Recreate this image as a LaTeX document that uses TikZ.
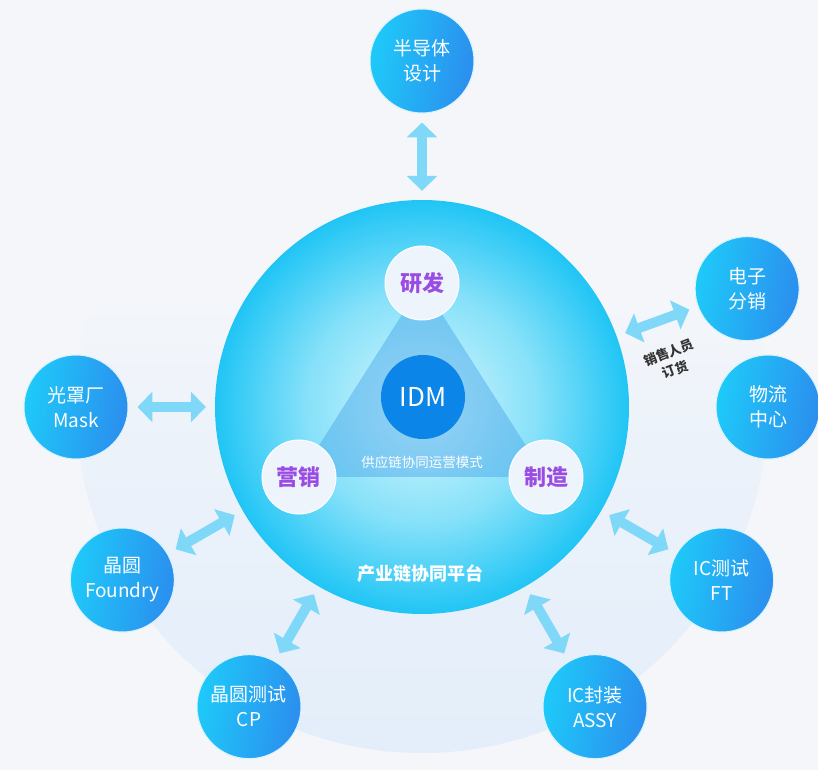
\documentclass[tikz,border=0pt]{standalone}
\usepackage{fontspec}
\setmainfont{Noto Sans CJK SC}
\usetikzlibrary{arrows.meta}
\definecolor{bgc}{HTML}{F4F6FA}
\definecolor{haloc}{HTML}{E3EEFA}
\definecolor{halomid}{HTML}{ECF2FA}
\definecolor{mainin}{HTML}{DAF7FD}
\definecolor{mainmid}{HTML}{86E1F9}
\definecolor{mainout}{HTML}{20C5F5}
\definecolor{tric}{HTML}{3F9FE9}
\definecolor{whc}{HTML}{EEF4FC}
\definecolor{purp}{HTML}{9B4DE3}
\definecolor{idmc}{HTML}{0B85E8}
\definecolor{arrc}{HTML}{7FD8F7}
\definecolor{oleft}{HTML}{1ECAF9}
\definecolor{oright}{HTML}{2B8EEE}
\definecolor{lblc}{HTML}{333333}
\pgfdeclareradialshading{mainshade}{\pgfpoint{0bp}{0bp}}{color(0bp)=(mainin); color(14bp)=(mainmid); color(25bp)=(mainout); color(50bp)=(mainout)}
\pgfdeclareverticalshading{haloshade}{100bp}{color(0bp)=(haloc); color(25bp)=(haloc); color(47bp)=(halomid); color(58bp)=(bgc); color(100bp)=(bgc)}
\tikzset{
  mainc/.style={circle, minimum size=414pt, inner sep=0pt, shade, shading=mainshade},
  wnode/.style={circle, minimum size=74pt, inner sep=0pt, fill=whc, draw=white, line width=1pt, text=purp, font=\bfseries\fontsize{22}{22}\selectfont},
  idmnode/.style={circle, minimum size=84pt, inner sep=0pt, fill=idmc, text=white, font=\fontsize{26}{26}\selectfont},
  onode/.style={circle, minimum size=104pt, inner sep=0pt, left color=oleft, right color=oright, shading angle=80, draw=white!85!cyan, line width=1pt, text=white, align=center, font=\fontsize{19}{25}\selectfont},
  dblarrow/.style={draw=arrc, line width=10pt, {Triangle[length=15pt,width=30pt]}-{Triangle[length=15pt,width=30pt]}, shorten <=9pt, shorten >=9pt},
}
\begin{document}
\begin{tikzpicture}[x=1pt,y=1pt]
\fill[bgc] (-422,-363) rectangle (396,407);
\useasboundingbox (-422,-363) rectangle (396,407);
% halo
\shade[shading=haloshade] (0,0) circle (346);
% main platform circle
\node[mainc] (main) at (0,0) {};
% triangle
\coordinate (pR) at (0,124);
\coordinate (pM) at (-123,-70);
\coordinate (pZ) at (124,-70);
\fill[tric, opacity=.42] (pR) -- (pM) -- (pZ) -- cycle;
\node[wnode] (rd) at (pR) {研发};
\node[wnode] (mk) at (pM) {营销};
\node[wnode] (mf) at (pZ) {制造};
\node[idmnode] (idm) at (1,10) {IDM};
\node[text=white, font=\fontsize{13.5}{14}\selectfont] (supply) at (0,-55) {供应链协同运营模式};
\node[text=white, font=\bfseries\fontsize{18}{18}\selectfont] (platform) at (-2,-167) {产业链协同平台};
% outer nodes
\node[onode] (sd) at (90:346) {半导体\\设计};
\node[onode] (ed) at (20:346) {电子\\分销};
\node[onode] (lc) at (0:346) {物流\\中心};
\node[onode] (ft) at (-30:346) {IC测试\\FT};
\node[onode] (assy) at (-60:346) {IC封装\\ASSY};
\node[onode] (cp) at (-120:346) {晶圆测试\\CP};
\node[onode] (fd) at (-150:346) {晶圆\\Foundry};
\node[onode] (mask) at (180:346) {光罩厂\\Mask};
% arrows
\draw[dblarrow] (main) -- (sd);
\draw[dblarrow] (main) -- (ed);
\draw[dblarrow] (main) -- (ft);
\draw[dblarrow] (main) -- (assy);
\draw[dblarrow] (main) -- (cp);
\draw[dblarrow] (main) -- (fd);
\draw[dblarrow] (main) -- (mask);
\node[rotate=21, text=lblc, align=center, font=\bfseries\fontsize{13}{18}\selectfont] (sales) at (250,46) {销售人员\\订货};
\end{tikzpicture}
\end{document}
